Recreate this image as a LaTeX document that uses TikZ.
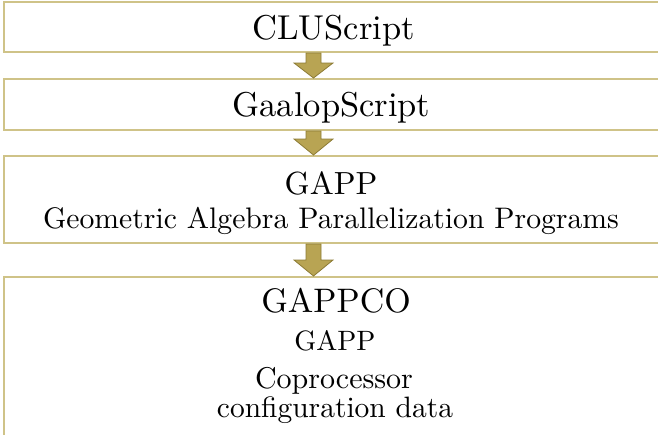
\documentclass[tikz,border=0pt]{standalone}
\usepackage{fontspec}
\newfontfamily\lmten{lmroman10-regular}[Extension=.otf]
\usetikzlibrary{calc}
\definecolor{boxline}{HTML}{CFC388}
\definecolor{arrowfill}{HTML}{B8A453}
\definecolor{arrowline}{HTML}{8C7B35}
\tikzset{
  stage/.style={draw=boxline, line width=2pt, rectangle, minimum width=656pt, inner sep=0pt},
  txt/.style={anchor=base, inner sep=0pt, font=\lmten\fontsize{#1}{#1}\selectfont},
  blockarrow/.style={fill=arrowfill, draw=arrowline, line width=0.8pt, line join=miter}
}
\newcommand\blkarrow[3]{%
  \draw[blockarrow] let \p1=(#1.south), \p2=(#2.north) in
    (\x1-26pt,\y1) -- (\x1-11pt,\y1) -- (\x1-11pt,\y2+#3) -- (\x1+1pt,\y2+#3)
    -- (\x1-18.5pt,\y2) -- (\x1-38pt,\y2+#3) -- (\x1-26pt,\y2+#3) -- cycle;}
\begin{document}
\begin{tikzpicture}[x=1pt,y=-1pt]
\useasboundingbox (0,0) rectangle (658,434);
\clip (0,0) rectangle (658,434);
\node[stage, minimum height=50pt] (b1) at (332,27) {};
\node[stage, minimum height=51pt] (b2) at (332,104.5) {};
\node[stage, minimum height=87pt] (b3) at (332,199.5) {};
\node[stage, minimum height=183pt] (b4) at (332,368.5) {};
\node[txt=34.5] (t1) at (333.5,39) {CLUScript};
\node[txt=34.5] (t2) at (331.5,116) {GaalopScript};
\node[txt=32] (t3) at (331,194) {GAPP};
\node[txt=29.7] (t3b) at (331,228.5) {Geometric Algebra Parallelization Programs};
\node[txt=34] (t4) at (336,312) {GAPPCO};
\node[txt=28] (t4b) at (335,350) {GAPP};
\node[txt=30] (t4c) at (334,388) {Coprocessor};
\node[txt=29.5] (t4d) at (335,417) {configuration data};
\blkarrow{b1}{b2}{15pt}
\blkarrow{b2}{b3}{16pt}
\blkarrow{b3}{b4}{16pt}
\end{tikzpicture}
\end{document}
